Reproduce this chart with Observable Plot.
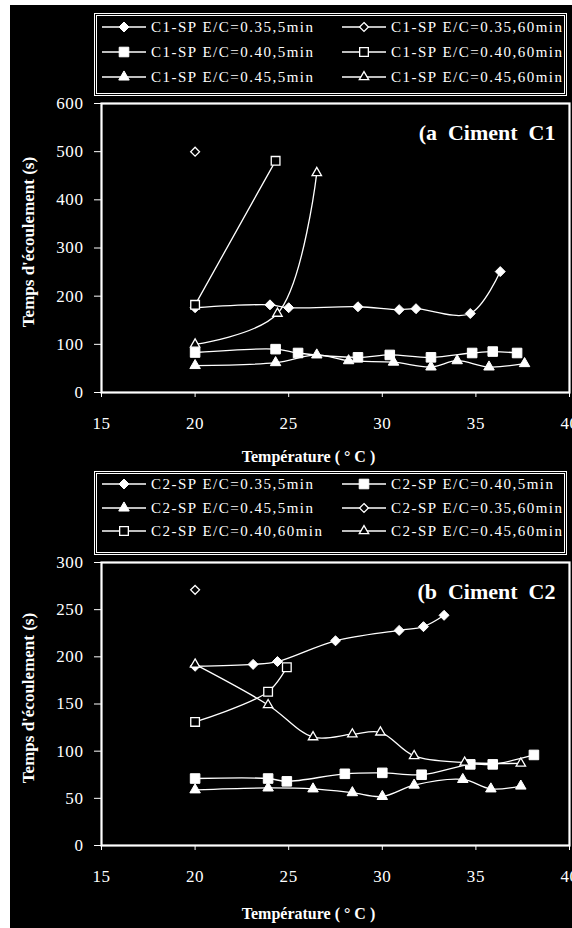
<!DOCTYPE html>
<html>
<head>
<meta charset="utf-8">
<script src="https://cdn.jsdelivr.net/npm/d3@7"></script>
<script src="https://cdn.jsdelivr.net/npm/@observablehq/plot@0.6"></script>
<style>
  html, body { margin: 0; padding: 0; background: #fff; }
  #page { position: relative; width: 572px; height: 928px; overflow: hidden; background: #fff; }
  #bg { position: absolute; left: 10px; top: 5px; width: 562px; height: 923px; background: #000; }
  .legend { position: absolute; left: 94px; width: 467px; border: 3px double #fff; }
  .entry { position: absolute; height: 20px; display: flex; align-items: center; white-space: nowrap;
           color: #fff; font-family: "Liberation Serif", "Times New Roman", serif; font-size: 15px; letter-spacing: 1.5px; }
  .entry span { margin-left: 5px; }
  .panel { position: absolute; left: 0; }
  g[aria-label="x-axis tick label"] text, g[aria-label="y-axis tick label"] text { letter-spacing: 0.6px; }
  g[aria-label="panel-title"] text { letter-spacing: 2px; }
  g[aria-label="axis-title"] text { letter-spacing: 1.4px; }
</style>
</head>
<body>
<div id="page"><div id="bg"></div></div>
<script>
// ---------- tick values ----------
const xTicks = [15, 20, 25, 30, 35, 40];
const yTicksA = [0, 100, 200, 300, 400, 500, 600];
const yTicksB = [0, 50, 100, 150, 200, 250, 300];

// ---------- panel (a) : Ciment C1 ----------
const tA_035_5  = [20, 24, 25, 28.7, 30.9, 31.8, 34.7, 36.3];
const vA_035_5  = [176, 182, 176, 178, 172, 174, 164, 251];
const tA_035_60 = [20];
const vA_035_60 = [500];
const tA_040_5  = [20, 24.3, 25.5, 28.7, 30.4, 32.6, 34.8, 35.9, 37.2];
const vA_040_5  = [83, 90, 82, 73, 78, 73, 82, 85, 82];
const tA_040_60 = [20, 24.3];
const vA_040_60 = [182, 481];
const tA_045_5  = [20, 24.3, 26.5, 28.2, 30.6, 32.6, 34.0, 35.7, 37.6];
const vA_045_5  = [56, 62, 78, 66, 63, 53, 66, 53, 60];
const tA_045_60 = [20, 24.4, 26.5];
const vA_045_60 = [100, 164, 456];

// ---------- panel (b) : Ciment C2 ----------
const tB_035_5  = [20, 23.1, 24.4, 27.5, 30.9, 32.2, 33.3];
const vB_035_5  = [190, 192, 195, 217, 228, 232, 244];
const tB_040_5  = [20, 23.9, 24.9, 28.0, 30.0, 32.1, 34.7, 35.9, 38.1];
const vB_040_5  = [71, 71, 68, 76, 77, 75, 86, 86, 96];
const tB_045_5  = [20, 23.9, 26.3, 28.4, 30.0, 31.7, 34.3, 35.8, 37.4];
const vB_045_5  = [59, 61, 60, 56, 52, 64, 70, 60, 63];
const tB_035_60 = [20];
const vB_035_60 = [271];
const tB_040_60 = [20, 23.9, 24.9];
const vB_040_60 = [131, 163, 189];
const tB_045_60 = [20, 23.9, 26.3, 28.4, 29.9, 31.7, 34.4, 37.4];
const vB_045_60 = [192, 149, 115, 118, 120, 95, 88, 87];

// ---------- series names ----------
const namesA = ["C1-SP E/C=0.35,5min", "C1-SP E/C=0.35,60min", "C1-SP E/C=0.40,5min",
                "C1-SP E/C=0.40,60min", "C1-SP E/C=0.45,5min", "C1-SP E/C=0.45,60min"];
const namesB = ["C2-SP E/C=0.35,5min", "C2-SP E/C=0.40,5min", "C2-SP E/C=0.45,5min",
                "C2-SP E/C=0.35,60min", "C2-SP E/C=0.40,60min", "C2-SP E/C=0.45,60min"];

// marker styles
const MK = {
  dFill: {symbol: d3.symbolDiamond2, r: 4.5, open: false},
  sFill: {symbol: d3.symbolSquare,   r: 5.4, open: false},
  tFill: {symbol: d3.symbolTriangle, r: 3.9, open: false},
  dOpen: {symbol: d3.symbolDiamond2, r: 4.0, open: true},
  sOpen: {symbol: d3.symbolSquare,   r: 4.9, open: true},
  tOpen: {symbol: d3.symbolTriangle, r: 3.5, open: true}
};

// legend order (row-major, two columns)
const seriesA = [
  {name: namesA[0], t: tA_035_5,  v: vA_035_5,  ...MK.dFill},
  {name: namesA[1], t: tA_035_60, v: vA_035_60, ...MK.dOpen},
  {name: namesA[2], t: tA_040_5,  v: vA_040_5,  ...MK.sFill},
  {name: namesA[3], t: tA_040_60, v: vA_040_60, ...MK.sOpen},
  {name: namesA[4], t: tA_045_5,  v: vA_045_5,  ...MK.tFill},
  {name: namesA[5], t: tA_045_60, v: vA_045_60, ...MK.tOpen}
];
const seriesB = [
  {name: namesB[0], t: tB_035_5,  v: vB_035_5,  ...MK.dFill},
  {name: namesB[1], t: tB_040_5,  v: vB_040_5,  ...MK.sFill},
  {name: namesB[2], t: tB_045_5,  v: vB_045_5,  ...MK.tFill},
  {name: namesB[3], t: tB_035_60, v: vB_035_60, ...MK.dOpen},
  {name: namesB[4], t: tB_040_60, v: vB_040_60, ...MK.sOpen},
  {name: namesB[5], t: tB_045_60, v: vB_045_60, ...MK.tOpen}
];

const page = document.getElementById("page");

function makePanel(series, yDomain, yTicks, title, top, marginBottom, xTitleDy) {
  const marks = [
    Plot.frame({stroke: "white", strokeWidth: 2.2}),
    Plot.axisX({ticks: xTicks, tickSize: 5, tickPadding: 19, label: null, tickFormat: d => String(d)}),
    Plot.axisY({ticks: yTicks, tickSize: 7, tickPadding: 11, label: null, tickFormat: d => String(d)})
  ];
  for (const s of series) {
    const rows = s.t.map((t, i) => ({t, v: s.v[i]}));
    if (rows.length > 1)
      marks.push(Plot.line(rows, {x: "t", y: "v", stroke: "white", strokeWidth: 1.3, curve: "catmull-rom"}));
  }
  for (const s of series) {
    const rows = s.t.map((t, i) => ({t, v: s.v[i]}));
    marks.push(Plot.dot(rows, {x: "t", y: "v", symbol: s.symbol, r: s.r,
      fill: s.open ? "black" : "white", stroke: "white", strokeWidth: s.open ? 1.3 : 1}));
  }
  marks.push(Plot.text([title], {text: d => d, frameAnchor: "top-right", textAnchor: "end", lineAnchor: "bottom",
    dx: -14, dy: 36, fontSize: 22, fontWeight: "bold", fill: "white", ariaLabel: "panel-title"}));
  marks.push(Plot.text(["Température ( ° C )"], {text: d => d, frameAnchor: "bottom", textAnchor: "middle", lineAnchor: "bottom",
    dx: -27, dy: xTitleDy, fontSize: 16, fontWeight: "bold", fill: "white", ariaLabel: "axis-title"}));
  marks.push(Plot.text(["Temps d'écoulement (s)"], {text: d => d, frameAnchor: "left", textAnchor: "middle", lineAnchor: "middle",
    rotate: -90, dx: -73, dy: -6, fontSize: 17, fontWeight: "bold", fill: "white", ariaLabel: "axis-title"}));

  const chart = Plot.plot({
    width: 572, height: 370,
    marginLeft: 101, marginRight: 3, marginTop: 5, marginBottom: marginBottom,
    style: {background: "transparent", color: "white", fontFamily: "'Liberation Serif', 'Times New Roman', serif", fontSize: "17px", overflow: "visible"},
    x: {domain: [15, 40]},
    y: {domain: yDomain},
    marks
  });
  chart.classList.add("panel");
  chart.style.top = top + "px";
  page.appendChild(chart);
}

function makeLegend(series, boxTop, boxHeight, rowYs) {
  const box = document.createElement("div");
  box.className = "legend";
  box.style.top = boxTop + "px";
  box.style.height = boxHeight + "px";
  page.appendChild(box);
  const colX = [102, 342];
  series.forEach((s, i) => {
    const row = Math.floor(i / 2), col = i % 2;
    const div = document.createElement("div");
    div.className = "entry";
    div.style.left = colX[col] + "px";
    div.style.top = (rowYs[row] - 10) + "px";
    const sw = 44;
    const svg = d3.create("svg").attr("width", sw).attr("height", 20);
    svg.append("line").attr("x1", 0).attr("x2", sw).attr("y1", 10).attr("y2", 10)
      .attr("stroke", "white").attr("stroke-width", 1.5);
    svg.append("path").attr("transform", `translate(${sw / 2},10)`)
      .attr("d", d3.symbol(s.symbol, s.r * s.r * Math.PI)())
      .attr("fill", s.open ? "black" : "white").attr("stroke", "white").attr("stroke-width", s.open ? 1.3 : 1);
    div.appendChild(svg.node());
    const span = document.createElement("span");
    span.textContent = s.name;
    div.appendChild(span);
    page.appendChild(div);
  });
}

makePanel(seriesA, [0, 600], yTicksA, "(a\u00a0\u00a0Ciment\u00a0\u00a0C1", 98, 76, 69);
makePanel(seriesB, [0, 300], yTicksB, "(b\u00a0\u00a0Ciment\u00a0\u00a0C2", 557, 82, 73);
makeLegend(seriesA, 13, 77, [27, 52, 77]);
makeLegend(seriesB, 471, 78, [484, 508, 531]);
</script>
</body>
</html>
